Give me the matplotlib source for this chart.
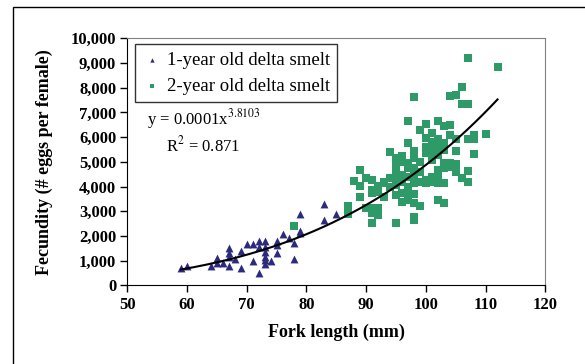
import matplotlib
matplotlib.use("Agg")
import matplotlib.pyplot as plt
import numpy as np
from matplotlib.patches import Rectangle

plt.rcParams['font.family'] = ['Liberation Serif', 'DejaVu Serif']
plt.rcParams['mathtext.fontset'] = 'stix'

# 1-year old fish: fork length (mm), fecundity
len_1yr = [59, 60, 64, 65, 65, 66, 67, 67, 67, 67, 68, 69, 69, 70, 71, 71,
           72, 72, 72, 73, 73, 73, 73, 73, 73, 74, 75, 75, 75, 76, 77, 78,
           78, 79, 79, 79, 83, 83, 85]
fec_1yr = [690, 790, 790, 1120, 900, 900, 1500, 1300, 1140, 790, 1060, 1400,
           700, 1665, 1665, 990, 1810, 1570, 490, 1810, 1570, 1370, 1170, 1030,
           860, 990, 1810, 1640, 1330, 2080, 1910, 1710, 1070, 2880, 2200,
           2110, 3280, 2650, 2880]

# 2-year old fish
len_2yr = [78, 87, 87,
           107, 112, 106, 104, 105, 98, 106, 107,
           97, 100, 102, 104, 103, 99, 101,
           110, 108, 108, 107, 100, 102, 101, 103, 104, 105,
           94, 97, 98, 100, 101, 102, 103, 105, 108,
           95, 96, 98, 100, 101,
           95, 96, 97, 99, 101, 102, 103, 104, 105,
           89, 95, 97, 98, 99, 102, 103, 104, 105, 107,
           90, 91, 88, 89, 93, 92, 94, 95, 96, 97, 98, 99, 100, 101, 102,
           106, 107, 103,
           91, 92, 91, 93, 94, 95, 96, 97, 98, 100, 101, 102,
           89, 93, 95, 96, 97, 98,
           90, 91, 92, 96, 97, 98, 99, 102, 103,
           91, 92, 98, 98, 91, 95]
fec_2yr = [2420, 3200, 2900,
           9220, 8830, 8040, 7670, 7710, 7610, 7360, 7360,
           6650, 6550, 6650, 6490, 6450, 6290, 6180,
           6140, 6090, 5930, 5930, 5980, 5930, 5820, 5750, 6090, 5930,
           5410, 5750, 5450, 5590, 5590, 5590, 5480, 5450, 5320,
           5140, 5240, 5140, 5350, 5350,
           4920, 5010, 4970, 5010, 5080, 5280, 4970, 4940, 4920,
           4670, 4670, 4740, 4740, 4610, 4670, 4740, 4810, 4610, 4630,
           4340, 4270, 4240, 4040, 4170, 4040, 4340, 4400, 4470, 4400, 4470,
           4200, 4270, 4400, 4470, 4340, 4200, 4130,
           3860, 3800, 3730, 4130, 4000, 4070, 4200, 4000, 4130, 4130, 4200,
           4130,
           3570, 3570, 3660, 3730, 3800, 3700,
           3150, 3150, 3120, 3390, 3460, 3320, 3230, 3460, 3320,
           2920, 2850, 2780, 2650, 2540, 2540]

# power trendline fitted to all fish (log-log least squares)
all_len = np.array(len_1yr + len_2yr, dtype=float)
all_fec = np.array(fec_1yr + fec_2yr, dtype=float)
b, log_a = np.polyfit(np.log(all_len), np.log(all_fec), 1)
xs = np.linspace(all_len.min(), all_len.max(), 200)
ys = np.exp(log_a) * xs ** b

fig = plt.figure(figsize=(5.85, 3.64), dpi=100)
ax = fig.add_axes([0.2176, 0.2157, 0.7145, 0.6791])

# outer chart frame (runs off the right and bottom edges)
fig.patches.append(Rectangle((12.5 / 585, -0.1), 1.2, 1 - 6.5 / 364 + 0.1,
                             transform=fig.transFigure, fill=False,
                             edgecolor='black', linewidth=1.0))

ax.scatter(len_1yr, fec_1yr, marker='^', s=32, color='#2b2a7e', linewidths=0,
           label='1-year old delta smelt', zorder=3)
ax.scatter(len_2yr, fec_2yr, marker='s', s=26, color='#2e9a68', linewidths=0,
           label='2-year old delta smelt', zorder=3)
ax.plot(xs, ys, color='black', linewidth=1.5, zorder=4)

ax.set_xlim(50, 120)
ax.set_ylim(0, 10000)
ax.set_xticks(range(50, 121, 10))
ax.set_yticks(range(0, 10001, 1000))
ax.set_yticklabels([f'{v:,}' for v in range(0, 10001, 1000)])
for lab in ax.get_xticklabels() + ax.get_yticklabels():
    lab.set_fontweight('bold')
    lab.set_fontsize(12)
ax.tick_params(direction='out', length=5, width=1, color='black', pad=3)

ax.spines['left'].set_color('black')
ax.spines['bottom'].set_color('black')
ax.spines['top'].set_color('#808080')
ax.spines['right'].set_color('#808080')
ax.spines['top'].set_linewidth(0.8)
ax.spines['right'].set_linewidth(0.8)

ax.set_xlabel('Fork length (mm)', fontsize=13, fontweight='bold', labelpad=8)
ax.set_ylabel('Fecundity (# eggs per female)', fontsize=13, fontweight='bold',
              labelpad=13)

leg = ax.legend(loc='upper left', bbox_to_anchor=(0.018, 0.975),
                borderaxespad=0, fontsize=13.5, frameon=True, fancybox=False,
                handletextpad=0.3, handlelength=1.0, markerscale=0.55,
                borderpad=0.4, labelspacing=0.45)
leg.get_frame().set_edgecolor('black')
leg.get_frame().set_linewidth(1.0)

ax.text(0.046, 0.675, 'y = 0.0001x$^{3.8103}$', transform=ax.transAxes,
        fontsize=12, va='center')
ax.text(0.093, 0.565, 'R$^{2}$ = 0.871', transform=ax.transAxes,
        fontsize=12, va='center')

fig.savefig('out.png', dpi=100)
